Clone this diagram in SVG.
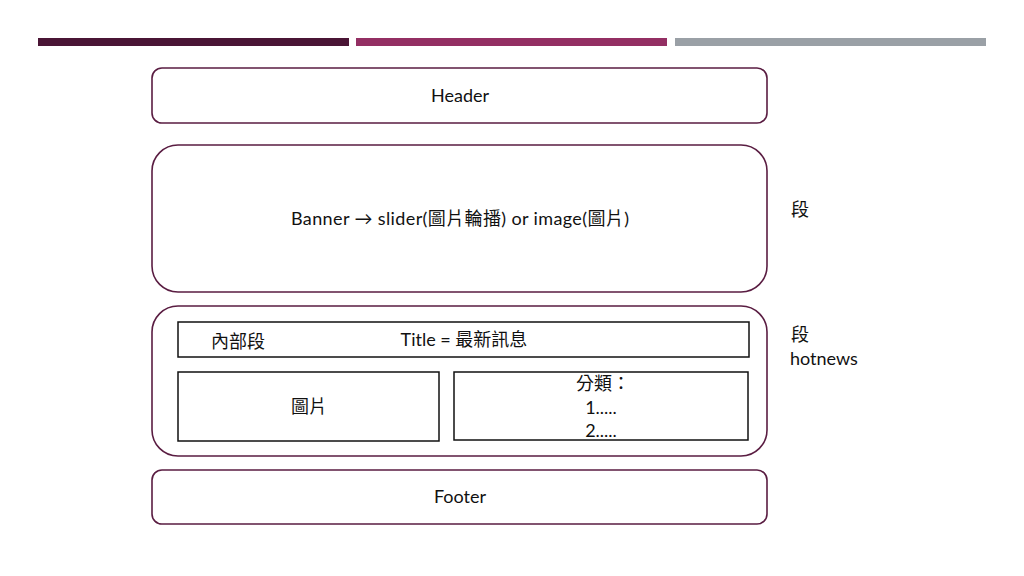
<svg xmlns="http://www.w3.org/2000/svg" width="1024" height="576" viewBox="0 0 1024 576">
<style>
.box{fill:#fff;stroke:#5a1d42;stroke-width:1.6}
.inner{fill:#fff;stroke:#111;stroke-width:1.5}
text{font-family:"Lato","Noto Sans CJK TC",sans-serif;font-size:18px;fill:#111}
.c{text-anchor:middle}
</style>
<rect width="1024" height="576" fill="#fff"/>
<g id="bars">
<rect x="38" y="38" width="311" height="8" fill="#4a1535"/>
<rect x="356" y="38" width="311" height="8" fill="#932f63"/>
<rect x="675" y="38" width="311" height="8" fill="#9aa0a6"/>
</g>
<g id="header">
<rect class="box" x="152" y="68" width="615" height="55" rx="10"/>
<text class="c" x="460" y="102">Header</text>
</g>
<g id="banner">
<rect class="box" x="152" y="145" width="615" height="147" rx="26"/>
<text class="c" x="460" y="225" textLength="338" lengthAdjust="spacing">Banner → slider(圖片輪播) or image(圖片)</text>
</g>
<g id="label-duan1">
<text x="791" y="216">段</text>
</g>
<g id="hotnews">
<rect class="box" x="152" y="306" width="615" height="150" rx="26"/>
</g>
<g id="title">
<rect class="inner" x="178" y="322" width="571" height="35"/>
<text x="211" y="348">內部段</text>
<text class="c" x="464" y="346">Title = 最新訊息</text>
</g>
<g id="image">
<rect class="inner" x="178" y="372" width="261" height="69"/>
<text class="c" x="309" y="413">圖片</text>
</g>
<g id="category">
<rect class="inner" x="454" y="372" width="294" height="68"/>
<text class="c" x="603" y="390">分類：</text>
<text class="c" x="601" y="414">1.....</text>
<text class="c" x="601" y="437">2.....</text>
</g>
<g id="label-duan2">
<text x="791" y="341">段</text>
<text x="790" y="365">hotnews</text>
</g>
<g id="footer">
<rect class="box" x="152" y="470" width="615" height="54" rx="10"/>
<text class="c" x="460" y="503">Footer</text>
</g>
<g id="connectors"></g>
</svg>
